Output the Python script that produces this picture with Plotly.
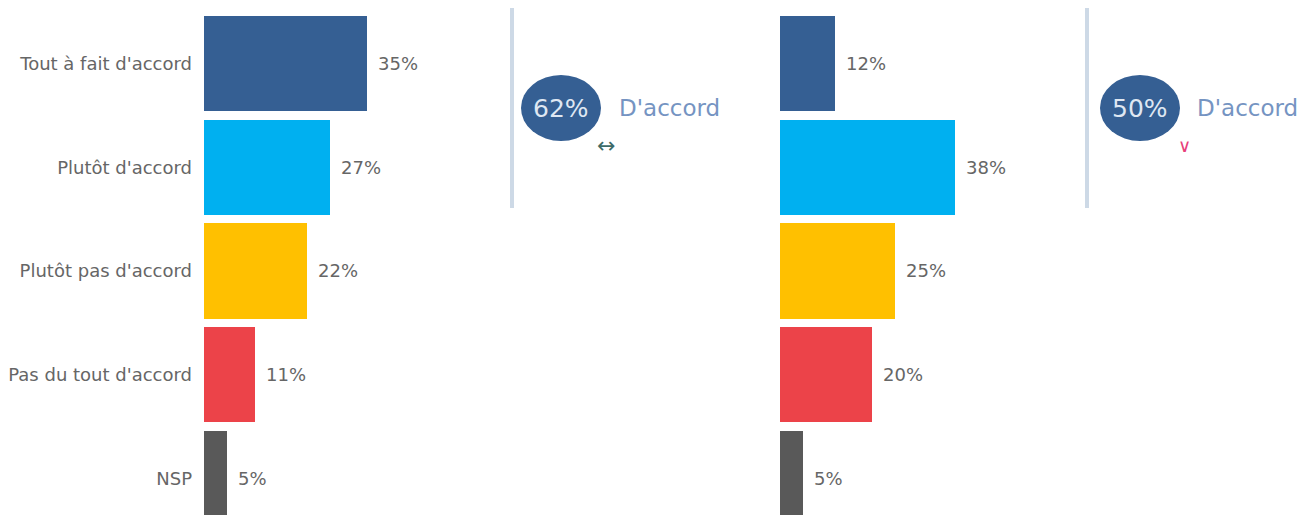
import plotly.graph_objects as go

categories = ["Tout à fait d'accord", "Plutôt d'accord", "Plutôt pas d'accord", "Pas du tout d'accord", "NSP"]
values_left = [35, 27, 22, 11, 5]
values_right = [12, 38, 25, 20, 5]
colors = ["#355f93", "#00b0f0", "#ffc000", "#ec4349", "#595959"]
total_left = "62%"
total_right = "50%"
total_label = "D'accord"
trend_left = "↔"
trend_right = "∨"

# page body has an 8px margin; figure is sized so that it fills the 1309x515 window
OFF = 8
W, H = 1309 - OFF, 515 - OFF
ypos = list(range(len(categories)))

fig = go.Figure()
fig.add_trace(go.Bar(x=values_left, y=ypos, orientation="h", marker=dict(color=colors, line=dict(width=0)),
                     width=0.92, xaxis="x", yaxis="y", showlegend=False, hoverinfo="skip"))
fig.add_trace(go.Bar(x=values_right, y=ypos, orientation="h", marker=dict(color=colors, line=dict(width=0)),
                     width=0.92, xaxis="x2", yaxis="y2", showlegend=False, hoverinfo="skip"))

FONT = "DejaVu Sans"
annotations = []
for v, y in zip(values_left, ypos):
    annotations.append(dict(x=v, y=y, xref="x", yref="y", text=f"{v}%", showarrow=False,
                            xanchor="left", xshift=9, font=dict(size=18, color="#666666", family=FONT)))
for v, y in zip(values_right, ypos):
    annotations.append(dict(x=v, y=y, xref="x2", yref="y2", text=f"{v}%", showarrow=False,
                            xanchor="left", xshift=9, font=dict(size=18, color="#666666", family=FONT)))


def px(x):
    return (x - OFF) / W


def py(y):
    return 1 - (y - OFF) / H


# totals
for cx, tot, dx, trend, tcol, tx, tsize in [(561, total_left, 617, trend_left, "#3d6b68", 606, 22),
                                            (1140, total_right, 1195, trend_right, "#e8407a", 1184, 18)]:
    annotations.append(dict(x=px(cx), y=py(108), xref="paper", yref="paper", text=tot, showarrow=False,
                            xanchor="center", yanchor="middle", font=dict(size=25, color="#dfe7f2", family=FONT)))
    annotations.append(dict(x=px(dx), y=py(108), xref="paper", yref="paper", text=total_label, showarrow=False,
                            xanchor="left", yanchor="middle", font=dict(size=23, color="#7594c2", family=FONT)))
    annotations.append(dict(x=px(tx), y=py(145), xref="paper", yref="paper", text=trend, showarrow=False,
                            xanchor="center", yanchor="middle", font=dict(size=tsize, color=tcol, family=FONT)))

shapes = []
for lx in [512, 1087]:
    shapes.append(dict(type="line", xref="paper", yref="paper", x0=px(lx), x1=px(lx), y0=py(208), y1=py(6),
                       line=dict(color="#cdd9e6", width=4)))
for cx in [561, 1140]:
    shapes.append(dict(type="circle", xref="paper", yref="paper", x0=px(cx - 40), x1=px(cx + 40),
                       y0=py(141), y1=py(75), fillcolor="#355f93", line=dict(width=0), layer="below"))
shapes.append(dict(type="rect", xref="paper", yref="paper", x0=px(1305), x1=1, y0=py(512), y1=1,
                   fillcolor="#c4c4c4", line=dict(width=0)))

pitch = 103.7
c0 = 63.5 - OFF
yrange = [(H - c0) / pitch, -c0 / pitch]

fig.update_layout(
    width=W, height=H, margin=dict(l=0, r=0, t=0, b=0),
    paper_bgcolor="white", plot_bgcolor="white",
    xaxis=dict(domain=[px(204), px(504)], range=[0, 300 / 4.67], visible=False, fixedrange=True),
    xaxis2=dict(domain=[px(780), px(1080)], range=[0, 300 / 4.6], visible=False, fixedrange=True),
    yaxis=dict(range=yrange, tickvals=ypos, ticktext=categories, showgrid=False, zeroline=False,
               showline=False, ticks="", ticklabelstandoff=11,
               tickfont=dict(size=18, color="#666666", family=FONT), anchor="x"),
    yaxis2=dict(range=yrange, showticklabels=False, showgrid=False, zeroline=False, showline=False,
                anchor="x2"),
    annotations=annotations, shapes=shapes, bargap=0,
)

fig.write_html("out.html", post_script="document.documentElement.style.overflow='hidden';")
